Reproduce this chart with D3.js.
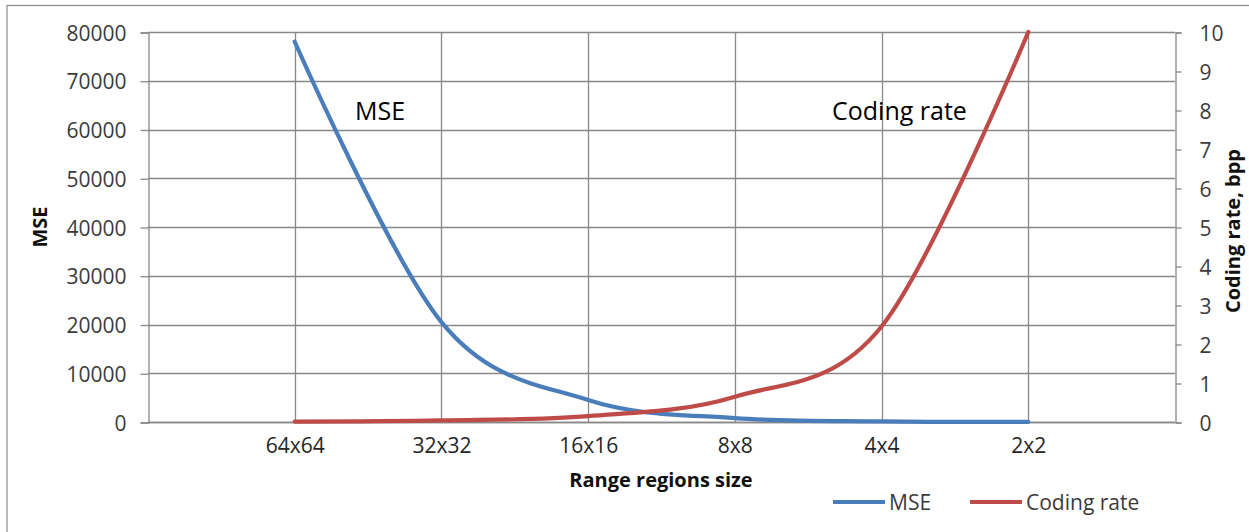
<!DOCTYPE html>
<html><head><meta charset="utf-8">
<script src="https://cdn.jsdelivr.net/npm/d3@7/dist/d3.min.js"></script>
<style>
body{margin:0;background:#fff;}
text{font-family:"Open Sans",Lato,sans-serif;}
</style></head>
<body>
<svg id="chart" width="1249" height="532"></svg>
<script>
const categories = ["64x64","32x32","16x16","8x8","4x4","2x2"];
const mseValues = [78000, 20500, 4500, 800, 120, 20];
const rateValues = [0.01, 0.04, 0.15, 0.65, 2.45, 10];
const mseTicks = [0,10000,20000,30000,40000,50000,60000,70000,80000];
const rateTicks = [0,1,2,3,4,5,6,7,8,9,10];

const svg = d3.select("#chart");
const L = 148, R = 1175, T = 32, B = 422;
const grid = "#888888";

svg.append("rect").attr("x",7).attr("y",5.5).attr("width",1300).attr("height",600)
  .attr("fill","none").attr("stroke","#8c8c8c").attr("stroke-width",1.2);

const x = d3.scalePoint().domain(categories).range([L,R]).padding(1);
const yL = d3.scaleLinear().domain([0,80000]).range([B,T]);
const yR = d3.scaleLinear().domain([0,10]).range([B,T]);

// horizontal gridlines
svg.append("g").selectAll("line").data(mseTicks).join("line")
  .attr("x1",L).attr("x2",R).attr("y1",d=>Math.round(yL(d))+0.5).attr("y2",d=>Math.round(yL(d))+0.5)
  .attr("stroke",grid).attr("stroke-width",1.3);
// vertical gridlines
svg.append("g").selectAll("line").data(categories).join("line")
  .attr("x1",d=>Math.round(x(d))+0.5).attr("x2",d=>Math.round(x(d))+0.5).attr("y1",T).attr("y2",B)
  .attr("stroke",grid).attr("stroke-width",1.3);

// left axis
const axL = d3.axisLeft(yL).tickValues(mseTicks).tickSize(8).tickPadding(14).tickFormat(d3.format("d"));
const gL = svg.append("g").attr("transform",`translate(${L+0.5},0.5)`).call(axL);
gL.select(".domain").attr("stroke",grid).attr("stroke-width",1.3);
gL.selectAll(".tick line").attr("stroke",grid).attr("stroke-width",1.3);
gL.selectAll(".tick text").attr("font-size",21).attr("fill","#3b3b3b").attr("font-family","'Open Sans',sans-serif").attr("dy","0.36em");

// right axis
const axR = d3.axisRight(yR).tickValues(rateTicks).tickSize(6).tickPadding(18).tickFormat(d3.format("d"));
const gR = svg.append("g").attr("transform",`translate(${R+0.5},0.5)`).call(axR);
gR.select(".domain").attr("stroke",grid).attr("stroke-width",1.3);
gR.selectAll(".tick line").attr("stroke",grid).attr("stroke-width",1.3);
gR.selectAll(".tick text").attr("font-size",21).attr("fill","#3b3b3b").attr("font-family","'Open Sans',sans-serif").attr("dy","0.36em");

// bottom axis
const axB = d3.axisBottom(x).tickSize(0).tickPadding(16);
const gB = svg.append("g").attr("transform",`translate(0,${B+0.5})`).call(axB);
gB.select(".domain").attr("stroke",grid).attr("stroke-width",1.3).attr("d",`M${L},0H${R}`);
gB.selectAll(".tick text").attr("font-size",21).attr("fill","#262626").attr("font-family","'Open Sans',sans-serif");

// lines
const curve = d3.curveCardinal.tension(0);
const lineMse = d3.line().x((d,i)=>x(categories[i])).y(d=>yL(d)).curve(curve);
const lineRate = d3.line().x((d,i)=>x(categories[i])).y(d=>yR(d)).curve(curve);
svg.append("path").datum(mseValues).attr("d",lineMse).attr("fill","none")
  .attr("stroke","#4A7EBB").attr("stroke-width",4.2).attr("stroke-linecap","round");
svg.append("path").datum(rateValues).attr("d",lineRate).attr("fill","none")
  .attr("stroke","#BE4B48").attr("stroke-width",4.2).attr("stroke-linecap","round");

// annotations
svg.append("text").attr("x",355).attr("y",120).attr("font-size",25).attr("fill","#000").text("MSE");
svg.append("text").attr("x",832).attr("y",120).attr("font-size",25).attr("fill","#000").text("Coding rate");

// axis titles
svg.append("text").attr("x",661).attr("y",487).attr("text-anchor","middle")
  .attr("font-size",20).attr("font-weight","bold").attr("fill","#111").text("Range regions size");
svg.append("text").attr("transform","translate(47,227) rotate(-90)").attr("text-anchor","middle")
  .attr("font-size",20).attr("font-weight","bold").attr("fill","#111").text("MSE");
svg.append("text").attr("transform","translate(1240,231) rotate(-90)").attr("text-anchor","middle")
  .attr("font-size",20).attr("font-weight","bold").attr("fill","#111").text("Coding rate, bpp");

// legend
const legend = [{name:"MSE",color:"#4A7EBB",x:833},{name:"Coding rate",color:"#BE4B48",x:970}];
const lg = svg.append("g").selectAll("g").data(legend).join("g");
lg.append("line").attr("x1",d=>d.x).attr("x2",d=>d.x+52).attr("y1",502).attr("y2",502)
  .attr("stroke",d=>d.color).attr("stroke-width",4.2);
lg.append("text").attr("x",d=>d.x+56).attr("y",510).attr("font-size",21).attr("fill","#3b3b3b").text(d=>d.name);
</script>
</body></html>
